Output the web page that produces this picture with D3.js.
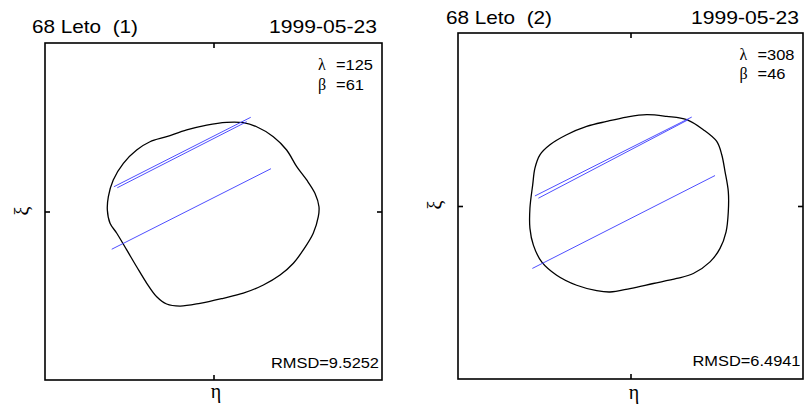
<!DOCTYPE html>
<html>
<head>
<meta charset="utf-8">
<script src="https://cdn.jsdelivr.net/npm/d3@7"></script>
<style>
  html, body { margin: 0; padding: 0; background: #fff; }
  svg { display: block; }
  .sans { font-family: "Liberation Sans", Arial, Helvetica, sans-serif; fill: #000; white-space: pre; }
  .greek { font-family: "Liberation Serif", "DejaVu Serif", serif; fill: #000; }
</style>
</head>
<body>
<svg id="chart" width="805" height="414"></svg>
<script>
// ---------------- data ----------------
const titles = ["68 Leto  (1)", "68 Leto  (2)"];
const dates = ["1999-05-23", "1999-05-23"];
const lambdas = [125, 308];
const betas = [61, 46];
const rmsds = ["9.5252", "6.4941"];
const axisDomain = [-100, 100];
const tickValues = [0];

// silhouette contour (eta, xi), panel 1
const contour1 = [
  [7.8,52.9],[17.7,52.7],[25.6,50.3],[35.5,44.4],[43.4,36.5],[49.4,26.6],[55.3,18.7],
  [60.2,10.8],[62.6,2.8],[62.2,-3.1],[59.2,-12.9],[53.3,-22.8],[47.4,-30.7],[39.5,-37.7],
  [29.6,-43.6],[17.7,-48.5],[5.8,-51.5],[-8.0,-54.5],[-19.9,-56.1],[-27.8,-54.9],
  [-33.7,-50.6],[-39.6,-42.6],[-45.6,-32.8],[-51.5,-22.8],[-57.4,-12.9],[-61.4,-7.0],
  [-63.0,0.9],[-62.4,8.8],[-59.5,18.7],[-53.5,28.6],[-45.6,36.5],[-37.7,41.4],
  [-27.8,44.4],[-15.9,48.4],[-4.0,51.3]
];
// occultation chords, panel 1
const chords1 = [
  [[-59.1,14.7],[22.1,55.9]],
  [[-57.1,14.1],[19.7,53.3]],
  [[-60.4,-22.4],[34.1,25.4]]
];

// silhouette contour (eta, xi), panel 2
const contour2 = [
  [9.4,52.8],[21.0,51.8],[32.6,49.9],[42.2,44.1],[50.0,37.3],[52.9,29.6],[54.8,19.9],
  [56.7,8.3],[56.7,-3.3],[55.4,-14.9],[51.9,-24.5],[46.1,-32.3],[36.4,-39.0],[26.8,-41.9],
  [13.2,-44.8],[-0.3,-47.7],[-11.9,-49.7],[-19.6,-48.9],[-31.2,-45.8],[-42.8,-40.0],
  [-51.5,-32.3],[-56.3,-22.6],[-58.3,-12.9],[-58.3,-1.3],[-56.7,12.2],[-55.4,21.9],
  [-52.5,29.6],[-46.7,35.4],[-37.0,41.2],[-25.4,46.0],[-13.8,48.9],[-2.2,51.4]
];
// occultation chords, panel 2
const chords2 = [
  [[-55.4,5.8],[35.5,51.4]],
  [[-53.4,4.5],[33.5,49.9]],
  [[-56.9,-36.1],[49.0,17.6]]
];

const contours = [contour1, contour2];
const chords = [chords1, chords2];

// ---------------- layout ----------------
const layout = [
  { x0: 45, x1: 382, y0: 43, y1: 380,
    titleX: 32, titleY: 33, dateX: 377, dateY: 33,
    lamX: 318, lamValX: 336, lamY: 70, betY: 89.5,
    rmsdX: 379, rmsdY: 367.5, etaX: 216, etaY: 398, xiX: 22, xiY: 211 },
  { x0: 458, x1: 803, y0: 33, y1: 379,
    titleX: 446, titleY: 24, dateX: 799, dateY: 24,
    lamX: 739.5, lamValX: 757.5, lamY: 60, betY: 78.5,
    rmsdX: 800.5, rmsdY: 366, etaX: 634, etaY: 399, xiX: 435, xiY: 205 }
];

const svg = d3.select("#chart");

layout.forEach((L, i) => {
  const x = d3.scaleLinear().domain(axisDomain).range([L.x0, L.x1]);
  const y = d3.scaleLinear().domain(axisDomain).range([L.y1, L.y0]);
  const g = svg.append("g");

  // contour
  const line = d3.line().x(d => x(d[0])).y(d => y(d[1])).curve(d3.curveCatmullRomClosed.alpha(0.5));
  g.append("path")
    .datum(contours[i])
    .attr("d", line)
    .attr("fill", "none")
    .attr("stroke", "#000")
    .attr("stroke-width", 1.3);

  // chords
  g.selectAll("line.chord")
    .data(chords[i])
    .join("line")
    .attr("class", "chord")
    .attr("x1", d => x(d[0][0])).attr("y1", d => y(d[0][1]))
    .attr("x2", d => x(d[1][0])).attr("y2", d => y(d[1][1]))
    .attr("stroke", "#3a3aff")
    .attr("stroke-width", 0.9);

  // frame
  g.append("rect")
    .attr("x", L.x0).attr("y", L.y0)
    .attr("width", L.x1 - L.x0).attr("height", L.y1 - L.y0)
    .attr("fill", "none").attr("stroke", "#000").attr("stroke-width", 1.6);

  // ticks
  const mk = (axis, tr) => {
    const a = g.append("g").attr("transform", tr)
      .call(axis.tickValues(tickValues).tickSize(-5).tickFormat(""));
    a.select(".domain").remove();
    a.selectAll(".tick line").attr("stroke", "#000").attr("stroke-width", 1.6);
  };
  mk(d3.axisBottom(x), `translate(0,${L.y1})`);
  mk(d3.axisTop(x), `translate(0,${L.y0})`);
  mk(d3.axisLeft(y), `translate(${L.x0},0)`);
  mk(d3.axisRight(y), `translate(${L.x1},0)`);

  // titles
  g.append("text").attr("class", "sans")
    .attr("xml:space", "preserve")
    .attr("x", L.titleX).attr("y", L.titleY)
    .attr("font-size", 19).attr("textLength", 106).attr("lengthAdjust", "spacingAndGlyphs")
    .text(titles[i]);
  g.append("text").attr("class", "sans")
    .attr("x", L.dateX).attr("y", L.dateY).attr("text-anchor", "end")
    .attr("font-size", 19).attr("textLength", 108).attr("lengthAdjust", "spacingAndGlyphs")
    .text(dates[i]);

  // lambda / beta
  g.append("text").attr("class", "greek")
    .attr("x", L.lamX).attr("y", L.lamY).attr("font-size", 16)
    .text("λ");
  g.append("text").attr("class", "sans")
    .attr("x", L.lamValX).attr("y", L.lamY).attr("font-size", 14.5)
    .attr("textLength", 37).attr("lengthAdjust", "spacingAndGlyphs")
    .text("=" + lambdas[i]);
  g.append("text").attr("class", "greek")
    .attr("x", L.lamX).attr("y", L.betY).attr("font-size", 16)
    .text("β");
  g.append("text").attr("class", "sans")
    .attr("x", L.lamValX).attr("y", L.betY).attr("font-size", 14.5)
    .attr("textLength", 28).attr("lengthAdjust", "spacingAndGlyphs")
    .text("=" + betas[i]);

  // RMSD
  g.append("text").attr("class", "sans")
    .attr("x", L.rmsdX).attr("y", L.rmsdY).attr("text-anchor", "end")
    .attr("font-size", 15.5).attr("textLength", 108).attr("lengthAdjust", "spacingAndGlyphs")
    .text("RMSD=" + rmsds[i]);

  // axis labels
  g.append("text").attr("class", "greek")
    .attr("x", L.etaX).attr("y", L.etaY).attr("text-anchor", "middle")
    .attr("font-size", 20)
    .text("η");
  g.append("text").attr("class", "greek")
    .attr("transform", `translate(${L.xiX},${L.xiY}) rotate(-90)`)
    .attr("text-anchor", "middle").attr("dominant-baseline", "central")
    .attr("font-size", 20)
    .text("ξ");
});
</script>
</body>
</html>
